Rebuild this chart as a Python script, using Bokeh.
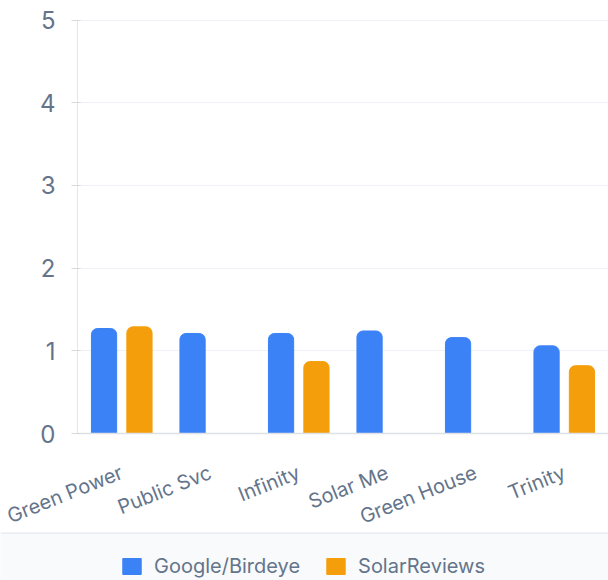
from bokeh.plotting import figure
from bokeh.models import (ColumnDataSource, FactorRange, Range1d, FixedTicker,
                          Legend, LegendItem, Span)
from bokeh.layouts import column
from bokeh.transform import dodge
from bokeh.embed import file_html
from bokeh.resources import INLINE

# ---- data ----
categories = ["Green Power", "Public Svc", "Infinity", "Solar Me", "Green House", "Trinity"]
google_birdeye = [1.27, 1.21, 1.21, 1.24, 1.16, 1.06]
solar_reviews = [1.29, None, 0.87, None, None, 0.82]
y_ticks = [0, 1, 2, 3, 4, 5]
series_names = ["Google/Birdeye", "SolarReviews"]

BLUE = "#3b82f6"
ORANGE = "#f59e0b"
TEXT = "#64748b"
FONT = "Inter"

g_src = ColumnDataSource(dict(cat=categories, val=google_birdeye))
s_cats = [c for c, v in zip(categories, solar_reviews) if v is not None]
s_vals = [v for v in solar_reviews if v is not None]
s_src = ColumnDataSource(dict(cat=s_cats, val=s_vals))

p = figure(x_range=FactorRange(*categories, range_padding=0),
           y_range=Range1d(0, 5.02),
           width=608, height=542, output_backend="svg", toolbar_location=None,
           min_border_left=77, min_border_right=0, min_border_top=18,
           min_border_bottom=0)
p.frame_align = False
p.x_range.factor_padding = 0
p.outline_line_color = None
p.background_fill_color = "white"
p.border_fill_color = "white"

p.vbar(x=dodge("cat", -0.2, range=p.x_range), top="val", width=0.285,
       source=g_src, fill_color=BLUE, line_color=BLUE,
       border_radius=(6, 6, 0, 0))
p.vbar(x=dodge("cat", 0.2, range=p.x_range), top="val", width=0.285,
       source=s_src, fill_color=ORANGE, line_color=ORANGE,
       border_radius=(6, 6, 0, 0))

# grid
p.xgrid.grid_line_color = None
p.ygrid.grid_line_color = "#eef2f6"
p.ygrid.grid_line_width = 1
p.yaxis.ticker = FixedTicker(ticks=y_ticks)

# y axis
p.yaxis.bounds = (0, 5)
p.yaxis.axis_line_color = "#e3e6ea"
p.yaxis.major_tick_line_color = "#d6dae0"
p.yaxis.major_tick_out = 6
p.yaxis.major_tick_in = 3
p.yaxis.minor_tick_line_color = None
p.yaxis.major_label_text_font = FONT
p.yaxis.major_label_text_font_size = "24px"
p.yaxis.major_label_text_color = TEXT
p.yaxis.major_label_standoff = 16

# x axis
p.xaxis.axis_line_color = "#dde1e6"
p.xaxis.axis_line_width = 1.5
p.xaxis.major_tick_line_color = None
p.xaxis.major_tick_out = 0
p.xaxis.major_tick_in = 0
p.xaxis.minor_tick_line_color = None
p.xaxis.major_label_orientation = 0.38
p.xaxis.major_label_text_font = FONT
p.xaxis.major_label_text_font_size = "20px"
p.xaxis.major_label_text_color = TEXT
p.xaxis.major_label_standoff = 38

# ---- legend band (pulled up over the empty bottom strip of the chart) ----
lg = figure(x_range=Range1d(0, 1), y_range=Range1d(0, 48), width=608, height=48,
            output_backend="svg", toolbar_location=None,
            min_border_left=0, min_border_right=0, min_border_top=0, min_border_bottom=0,
            styles={"margin-top": "-10px"})
lg.frame_align = False
lg.axis.visible = False
lg.grid.visible = False
lg.outline_line_color = None
lg.background_fill_color = "#f8fafc"
lg.border_fill_color = "#f8fafc"
lg.add_layout(Span(location=47.5, dimension="width", line_color="#e2e8f0", line_width=1.5))
# placeholder renderers (outside the visible range) that only supply legend swatches
r1 = lg.vbar(x=[-5], top=[-5], width=0.1, fill_color=BLUE, line_color=BLUE)
r2 = lg.vbar(x=[-5], top=[-5], width=0.1, fill_color=ORANGE, line_color=ORANGE)
legend = Legend(items=[LegendItem(label=series_names[0], renderers=[r1]),
                       LegendItem(label=series_names[1], renderers=[r2])],
                orientation="horizontal", location=(120, 2),
                margin=0, padding=0, spacing=24, label_standoff=11,
                glyph_width=23, glyph_height=20,
                border_line_color=None, background_fill_alpha=0,
                label_text_font=FONT, label_text_font_size="20px",
                label_text_color=TEXT, label_text_baseline="middle")
lg.add_layout(legend, "center")

layout = column(p, lg, spacing=0)
open("out.html", "w").write(file_html(layout, INLINE))
